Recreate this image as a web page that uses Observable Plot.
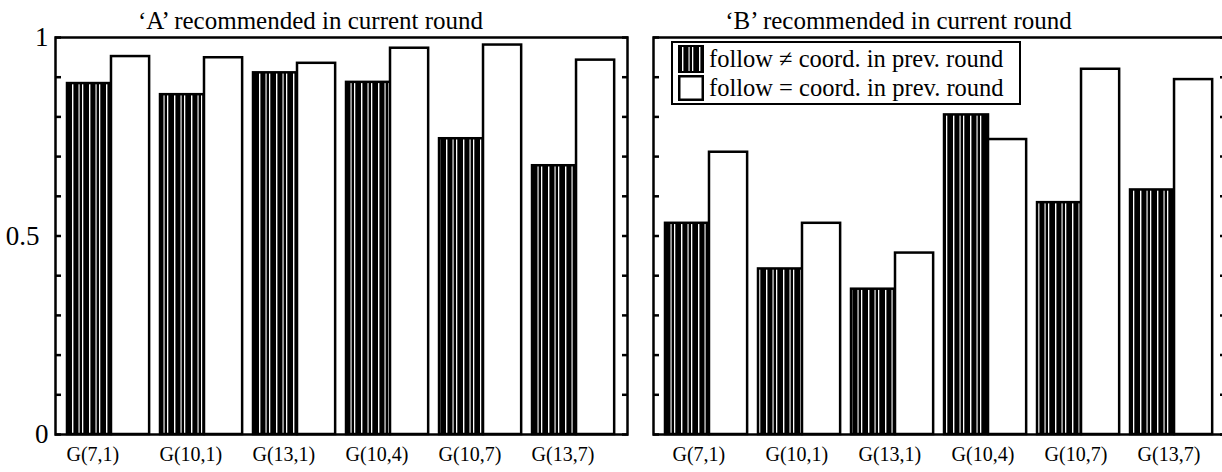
<!DOCTYPE html>
<html>
<head>
<meta charset="utf-8">
<script src="https://cdn.jsdelivr.net/npm/d3@7"></script>
<script src="https://cdn.jsdelivr.net/npm/@observablehq/plot@0.6"></script>
<style>
  html, body { margin: 0; padding: 0; background: white; overflow: hidden; }
  #wrap { position: relative; width: 1222px; height: 472px; overflow: hidden; font-family: "Liberation Serif", "Times New Roman", serif; }
  #left, #right { position: absolute; top: 0; }
  #left { left: 0; width: 632px; }
  #right { left: 643px; width: 592px; }
  #left svg, #right svg { max-width: none !important; }
  #legend { position: absolute; left: 671px; top: 41px; width: 346px; height: 60px; border: 2.5px solid black; background: white; }
  .lrow { position: absolute; left: 5px; height: 28px; display: flex; align-items: center; font-size: 24.5px; line-height: 1; white-space: nowrap; }
  .lrow svg { margin-right: 5px; flex: none; }
</style>
</head>
<body>
<svg width="0" height="0" style="position:absolute">
  <defs>
    <pattern id="hatch" patternUnits="userSpaceOnUse" width="17" height="8">
      <rect width="17" height="8" fill="black"/>
      <rect x="4" width="1.4" height="8" fill="white"/>
      <rect x="10.5" width="1.1" height="8" fill="white"/>
      <rect x="14" width="1.3" height="8" fill="white"/>
    </pattern>
  </defs>
</svg>
<div id="wrap">
  <div id="left"></div>
  <div id="right"></div>
  <div id="legend">
    <div class="lrow" style="top:2px"><svg width="26" height="28"><rect x="1" y="1" width="24" height="26" fill="url(#hatch)" stroke="black" stroke-width="2"/></svg><span>follow ≠ coord. in prev. round</span></div>
    <div class="lrow" style="top:31px"><svg width="26" height="26"><rect x="1.25" y="1.25" width="23.5" height="23.5" fill="white" stroke="black" stroke-width="2.5"/></svg><span>follow = coord. in prev. round</span></div>
  </div>
</div>
<script>
const groups = ["G(7,1)", "G(10,1)", "G(13,1)", "G(10,4)", "G(10,7)", "G(13,7)"];
const aNotFollow = [0.884, 0.856, 0.911, 0.887, 0.745, 0.677];
const aFollow    = [0.952, 0.949, 0.935, 0.973, 0.981, 0.943];
const bNotFollow = [0.532, 0.417, 0.366, 0.805, 0.584, 0.616];
const bFollow    = [0.711, 0.532, 0.457, 0.743, 0.920, 0.894];
const yTicks = [0, 0.1, 0.2, 0.3, 0.4, 0.5, 0.6, 0.7, 0.8, 0.9, 1];
const yEndTicks = [0, 1];
const yEndText = ["0", "1"];
const yMidTicks = [0.5];
const yMidText = ["0.5"];
const titleA = "‘A’ recommended in current round";
const titleB = "‘B’ recommended in current round";

const idx = groups.map((g, i) => i);

function panel(notFollow, follow, title, opts) {
  const marks = [
    Plot.rectY(idx, {x1: i => i + 1 - 0.473, x2: i => i + 1, y1: 0, y2: i => notFollow[i],
      fill: "url(#hatch)", stroke: "black", strokeWidth: 2.5}),
    Plot.rectY(idx, {x1: i => i + 1, x2: i => i + 1.41, y1: 0, y2: i => follow[i],
      fill: "white", stroke: "black", strokeWidth: 2.5}),
    Plot.axisY({anchor: "left", ticks: yTicks, tickSize: -6, strokeWidth: 2.5, text: null, label: null}),
    Plot.axisY({anchor: "right", ticks: yTicks, tickSize: -6, strokeWidth: 2.5, text: null, label: null}),
    Plot.text(groups, {x: (d, i) => i + 1 - 0.473, frameAnchor: "bottom", lineAnchor: "top", textAnchor: "start",
      dy: 12, dx: opts.labelDx, text: d => d, fontSize: 20, fill: "black"}),
    Plot.frame({stroke: "black", strokeWidth: 2.5}),
    Plot.text([title], {frameAnchor: "top", lineAnchor: "bottom", dy: -9, dx: opts.titleDx,
      text: d => d, fontSize: 25, fill: "black"})
  ];
  if (opts.labels) {
    marks.push(Plot.text(yEndTicks, {y: d => d, frameAnchor: "left", textAnchor: "end", dx: -7,
      text: (d, i) => yEndText[i], fontSize: 27, fill: "black"}));
    marks.push(Plot.text(yMidTicks, {y: d => d, frameAnchor: "left", textAnchor: "end", dx: -16,
      text: (d, i) => yMidText[i], fontSize: 27, fill: "black"}));
  }
  return Plot.plot({
    width: opts.width, height: 472,
    marginLeft: opts.marginLeft, marginRight: opts.marginRight, marginTop: 37, marginBottom: 38,
    x: {domain: [0.398, 6.548], axis: null},
    y: {domain: [0, 1], axis: null},
    style: {fontFamily: "Liberation Serif, Times New Roman, serif", color: "black", background: "transparent", overflow: "visible", maxWidth: "none"},
    marks
  });
}

document.getElementById("left").append(panel(aNotFollow, aFollow, titleA, {width: 632, marginLeft: 55, marginRight: 5, titleDx: -31, labelDx: -1, labels: true}));
document.getElementById("right").append(panel(bNotFollow, bFollow, titleB, {width: 592, marginLeft: 10, marginRight: 10, titleDx: -41, labelDx: 7, labels: false}));
</script>
</body>
</html>
